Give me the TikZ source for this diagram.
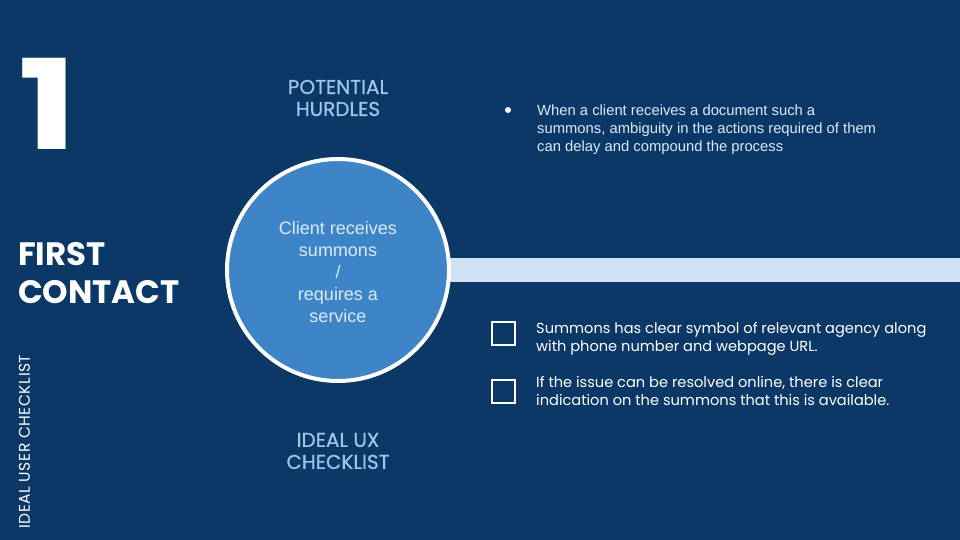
\documentclass[tikz,border=0pt]{standalone}
\usepackage{fontspec}
\setmainfont{Liberation Sans}
\newfontfamily\headfont{Poppins}
\newfontfamily\headmed{Poppins}[FakeBold=0.6]
\newfontfamily\headspaced{Poppins}[LetterSpace=3.5]
\definecolor{bgblue}{HTML}{0B3866}
\definecolor{circblue}{HTML}{3D85C6}
\definecolor{barblue}{HTML}{CFE2F3}
\definecolor{headblue}{HTML}{9FC5E8}
\definecolor{textblue}{HTML}{DCEAF7}
\tikzset{
  heading/.style={text=headblue, font=\headmed\fontsize{20}{22}\selectfont, align=center, inner sep=0},
  bigtitle/.style={text=white, font=\headfont\bfseries\fontsize{32.4}{38}\selectfont, align=left, inner sep=0, anchor=north west},
  bodytext/.style={text=textblue, font=\fontsize{14.8}{18}\selectfont, align=left, inner sep=0, anchor=north west},
  checktext/.style={text=white, font=\headfont\fontsize{14.6}{18}\selectfont, align=left, inner sep=0, anchor=north west},
  checkbox/.style={draw=white, line width=2pt, minimum size=23pt, inner sep=0},
}
\begin{document}
\begin{tikzpicture}[x=1pt,y=-1pt]
\fill[bgblue] (0,0) rectangle (960,540);
\useasboundingbox (0,0) rectangle (960,540);
% bar
\fill[barblue] (420,258) rectangle (960,282);
% circle
\node[circle, fill=circblue, draw=white, line width=4pt, minimum size=222pt, inner sep=0] (hub) at (338,270) {};
\node[text=textblue, font=\fontsize{18}{22}\selectfont, align=center, inner sep=0] (hubtext) at (338,272)
  {Client receives\\summons\\/\\requires a\\service};
% big number
\node[text=white, font=\headfont\bfseries\fontsize{125}{125}\selectfont, inner sep=0, anchor=north west, xscale=1.25] (num) at (18,58) {1};
% title
\node[bigtitle] (title) at (18,242) {FIRST\\CONTACT};
% side label
\node[text=white, font=\headspaced\fontsize{15.5}{16}\selectfont, rotate=90, anchor=west, inner sep=0] (side) at (24.5,529) {IDEAL USER CHECKLIST};
% headings
\node[heading] (hurdles) at (338,98) {POTENTIAL\\HURDLES};
\node[heading] (ux) at (338,451) {IDEAL UX\\CHECKLIST};
% bullet
\fill[white] (508,110) circle (3pt);
\node[bodytext] (hurdle1) at (537,105) {When a client receives a document such a\\summons, ambiguity in the actions required of them\\can delay and compound the process};
% checklist
\node[checkbox] (box1) at (503,333) {};
\node[checkbox] (box2) at (503,391) {};
\node[checktext] (check1) at (536,322) {Summons has clear symbol of relevant agency along\\with phone number and webpage URL.};
\node[checktext] (check2) at (536,376) {If the issue can be resolved online, there is clear\\indication on the summons that this is available.};
\end{tikzpicture}
\end{document}
